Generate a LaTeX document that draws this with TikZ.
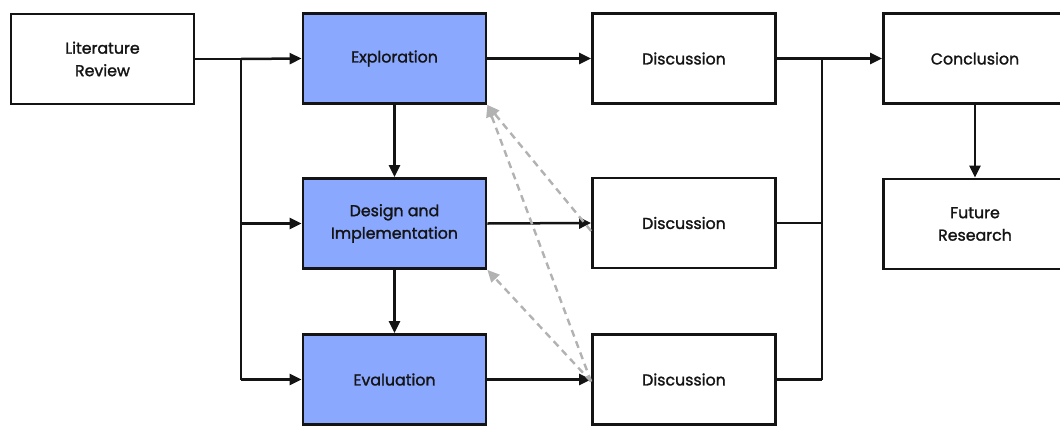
\documentclass[tikz,border=0pt]{standalone}
\usepackage{fontspec}
\setmainfont{Poppins}
\newfontfamily\labfont[FakeBold=1.5]{Poppins}
\usetikzlibrary{arrows.meta}
\definecolor{boxblue}{RGB}{139,168,255}
\definecolor{ink}{RGB}{20,20,20}
\begin{document}
\begin{tikzpicture}[x=1pt,y=-1pt,
  box/.style={draw=ink,line width=2.8pt,minimum width=183pt,minimum height=90pt,
    inner sep=0pt,align=center,font=\labfont\fontsize{15.8}{22.5}\selectfont,text=ink},
  blue/.style={box,fill=boxblue},
  arr/.style={draw=ink,line width=2.5pt,-{Triangle[length=12pt,width=11pt]}},
  ln/.style={draw=ink,line width=2.5pt},
  dsh/.style={draw=black!30,line width=2.4pt,dash pattern=on 7pt off 5pt,-{Triangle[length=12pt,width=11pt]}}]
\useasboundingbox (0,0) rectangle (1060,426);
\begin{scope}
\clip (0,0) rectangle (1060,426);
\node[box] (lit) at (102.5,59) {Literature\\Review};
\node[blue] (exp) at (394.5,58.5) {Exploration};
\node[blue] (des) at (394.5,223.5) {Design and\\Implementation};
\node[blue] (eva) at (394.5,379.5) {Evaluation};
\node[box] (d1) at (684,58.5) {Discussion};
\node[box] (d2) at (684,223) {Discussion};
\node[box] (d3) at (684,379.5) {Discussion};
\node[box] (con) at (975,58.5) {Conclusion};
\node[box] (fut) at (975,224) {Future\\Research};
\end{scope}
\coordinate (lb) at (241,59);
\coordinate (lbe) at (241,379.5);
\coordinate (rb) at (822,58.5);
\coordinate (rbe) at (822,379.5);
\draw[ln] (lit.east) -- (lb);
\draw[arr] (lb) -- (exp.west);
\draw[ln] (lb) -- (lbe);
\draw[arr] (lb |- des.west) -- (des.west);
\draw[arr] (lbe) -- (eva.west);
\draw[arr] (exp.south) -- (des.north);
\draw[arr] (des.south) -- (eva.north);
\draw[arr] (exp.east) -- (d1.west);
\draw[arr] (des.east) -- (d2.west);
\draw[arr] (eva.east) -- (d3.west);
\draw[ln] (d1.east) -- (rb);
\draw[arr] (rb) -- (con.west);
\draw[ln] (rb) -- (rbe);
\draw[ln] (d2.east) -- (rb |- d2.east);
\draw[ln] (d3.east) -- (rbe);
\draw[arr] (con.south) -- (fut.north);
\draw[dsh] ([yshift=-8pt]d2.west) -- (exp.south east);
\draw[dsh] ([yshift=-2pt]d3.west) -- (exp.south east);
\draw[dsh] ([yshift=-2pt]d3.west) -- (des.south east);
\end{tikzpicture}
\end{document}
